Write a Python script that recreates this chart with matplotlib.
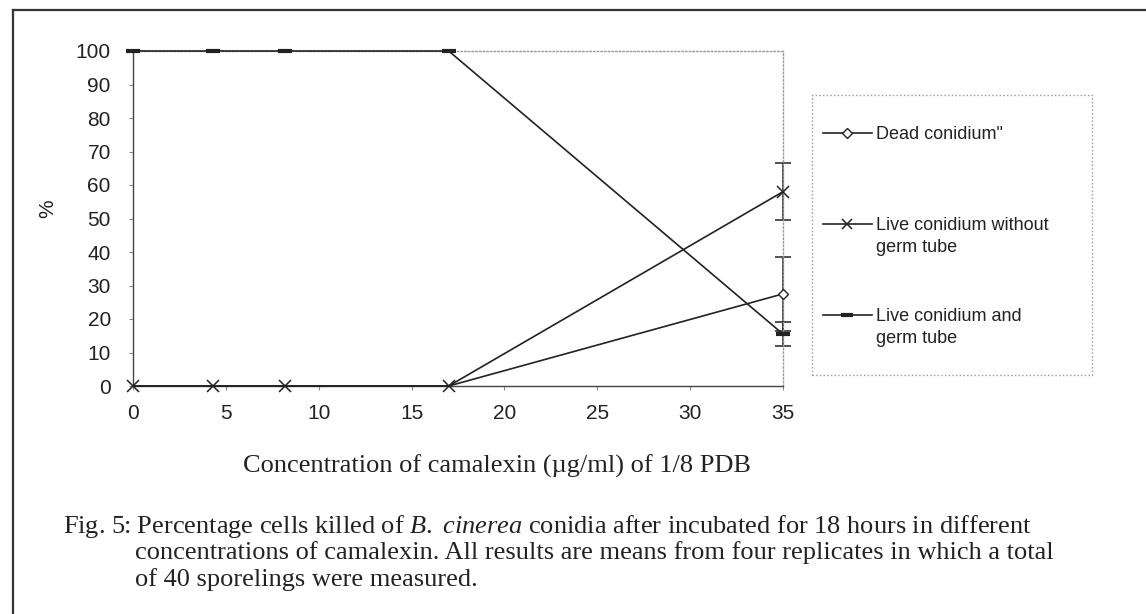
import matplotlib
matplotlib.use("Agg")
import numpy as np
import matplotlib.pyplot as plt
from matplotlib.lines import Line2D
from matplotlib.patches import Rectangle

# camalexin concentration (ug/ml) and % of conidia in each class
conc = [0, 4.3, 8.2, 17, 35]
dead = [0, 0, 0, 0, 27.5]
dead_err = [0, 0, 0, 0, 11]
live_no_tube = [0, 0, 0, 0, 58]
live_no_tube_err = [0, 0, 0, 0, 8.5]
live_tube = [100, 100, 100, 100, 15.5]
live_tube_err = [0, 0, 0, 0, 3.5]

labels = ['Dead conidium"', "Live conidium without", "Live conidium and"]
label_second_lines = [None, "germ tube", "germ tube"]
xticks = [0, 5, 10, 15, 20, 25, 30, 35]
yticks = [0, 10, 20, 30, 40, 50, 60, 70, 80, 90, 100]

x_label = "Concentration of camalexin (\u00b5g/ml) of 1/8 PDB"
caption = [
    r"Fig. 5: Percentage cells killed of $\it{B.}$ $\it{cinerea}$ conidia after incubated for 18 hours in different",
    "concentrations of camalexin. All results are means from four replicates in which a total",
    "of 40 sporelings were measured.",
]

plt.rcParams["font.family"] = ["Liberation Sans", "DejaVu Sans"]
plt.rcParams["mathtext.fontset"] = "custom"
plt.rcParams["mathtext.rm"] = "Liberation Serif"
plt.rcParams["mathtext.it"] = "Liberation Serif:italic"

INK = "#222222"
W, H = 1146, 614
fig = plt.figure(figsize=(11.46, 6.14), dpi=100)
ax = fig.add_axes([133 / W, 1 - 386 / H, 650 / W, 335 / H])

x = np.array(conc)


def with_err(ax, y, err):
    y = np.array(y)
    err = np.array(err)
    m = err > 0
    eb = ax.errorbar(x[m], y[m], yerr=err[m], fmt="none", ecolor=INK,
                     elinewidth=1.1, capsize=6, capthick=1.1, zorder=2)
    for a in eb.lines[1] + eb.lines[2]:
        a.set_clip_on(False)


with_err(ax, dead, dead_err)
with_err(ax, live_no_tube, live_no_tube_err)
with_err(ax, live_tube, live_tube_err)

l1, = ax.plot(x, dead, color=INK, lw=1.2, marker="D", ms=5.5, mfc="white",
              mec=INK, mew=1.0, markevery=[4], zorder=3, clip_on=False)
l2, = ax.plot(x, live_no_tube, color=INK, lw=1.2, marker="x", ms=8.5,
              mew=1.1, zorder=4, clip_on=False)
l3, = ax.plot(x, live_tube, color=INK, lw=1.2, marker="_", ms=10,
              mew=3, zorder=3, clip_on=False)

ax.set_xlim(0, 35)
ax.set_ylim(0, 100)
ax.set_xticks(xticks)
ax.set_yticks(yticks)
ax.tick_params(axis="both", labelsize=15, colors="#888888",
               labelcolor=INK, length=3, width=0.8)
ax.tick_params(axis="y", pad=13)
ax.tick_params(axis="x", pad=10)
for s in ["left", "bottom"]:
    ax.spines[s].set_color("#444444")
    ax.spines[s].set_linewidth(1.0)
for s in ["top", "right"]:
    ax.spines[s].set_color("#999999")
    ax.spines[s].set_linestyle(":")
    ax.spines[s].set_linewidth(1.0)

ax.set_ylabel("%", fontsize=15, color=INK, va="center")
ax.yaxis.set_label_coords((48 - 133) / 650, (386 - 209) / 335)
ax.set_xlabel(x_label, fontsize=19, family="Liberation Serif", color=INK,
              va="center")
ax.xaxis.set_label_coords((497 - 133) / 650, -(466 - 386) / 335)

# legend box
fig.add_artist(Rectangle((812 / W, 1 - 375 / H), 280 / W, 280 / H,
                         transform=fig.transFigure, fill=False,
                         edgecolor="#999999", ls=":", lw=1.0))
leg = fig.legend([l1, l2, l3], labels, loc="upper left",
                 bbox_to_anchor=(823 / W, 1 - 126 / H), frameon=False,
                 fontsize=13, handlelength=2.7, handletextpad=0.25,
                 labelspacing=4.1, borderpad=0, borderaxespad=0,
                 markerscale=0.85)
for t in leg.get_texts():
    t.set_color(INK)

fig.canvas.draw()
for t, extra in zip(leg.get_texts(), label_second_lines):
    if extra is None:
        continue
    bb = t.get_window_extent()
    fig.text(bb.x0 / W, (bb.y0 + bb.y1) / 2 / H - 22 / H, extra,
             fontsize=13, color=INK, va="center", ha="left")

# caption
cap_kw = dict(fontsize=19, family="Liberation Serif", color=INK, va="center")
fig.text(63 / W, 1 - 527 / H, caption[0], **cap_kw)
fig.text(135 / W, 1 - 553 / H, caption[1], **cap_kw)
fig.text(135 / W, 1 - 580 / H, caption[2], **cap_kw)

# outer border (top and left)
fig.add_artist(Line2D([13 / W, 1.0], [1 - 10 / H, 1 - 10 / H],
                      transform=fig.transFigure, color="#333333", lw=1.6))
fig.add_artist(Line2D([13 / W, 13 / W], [0, 1 - 10 / H],
                      transform=fig.transFigure, color="#333333", lw=1.6))

fig.savefig("out.png", dpi=100)
